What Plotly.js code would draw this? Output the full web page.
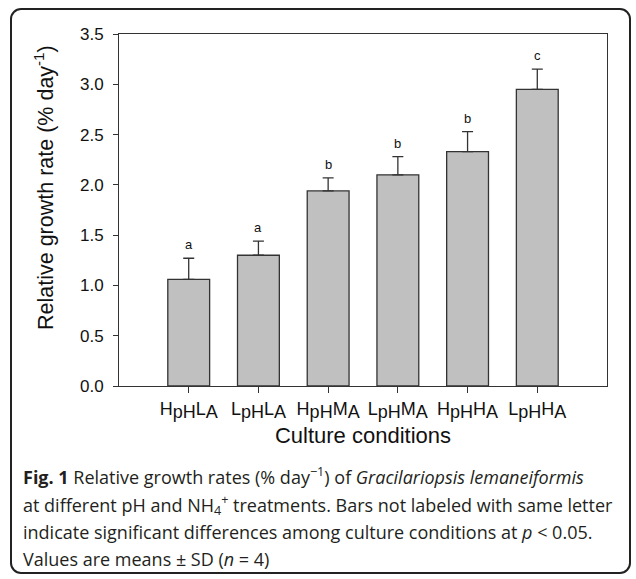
<!DOCTYPE html>
<html>
<head>
<meta charset="utf-8">
<script src="https://cdn.plot.ly/plotly-3.0.1.min.js"></script>
<style>
  html, body { margin: 0; padding: 0; background: #ffffff; }
  #wrap { position: relative; width: 636px; height: 579px; }
  #frame { position: absolute; left: 10px; top: 8px; width: 621px; height: 566px;
           border: 2px solid #222; border-radius: 11px; box-sizing: border-box; }
  #chart { position: absolute; left: 0; top: 0; width: 636px; height: 579px; }
</style>
</head>
<body>
<div id="wrap">
  <div id="frame"></div>
  <div id="chart"></div>
</div>
<script>
// ---- data ----
var categories = ['HpHLA', 'LpHLA', 'HpHMA', 'LpHMA', 'HpHHA', 'LpHHA'];
var subSpan = function (s) { return '<sub><span style="font-size:18px">' + s + '</span></sub>'; };
var tickLabels = [
  'H' + subSpan('pH') + 'L' + subSpan('A'),
  'L' + subSpan('pH') + 'L' + subSpan('A'),
  'H' + subSpan('pH') + 'M' + subSpan('A'),
  'L' + subSpan('pH') + 'M' + subSpan('A'),
  'H' + subSpan('pH') + 'H' + subSpan('A'),
  'L' + subSpan('pH') + 'H' + subSpan('A')
];
var growthRate = [1.06, 1.30, 1.94, 2.10, 2.33, 2.95];
var sdValues   = [0.21, 0.14, 0.13, 0.18, 0.20, 0.20];
var letters    = ['a', 'a', 'b', 'b', 'b', 'c'];

var captionLines = [
  '<b>Fig. 1</b> Relative growth rates (% day<sup>\u22121</sup>) of <i>Gracilariopsis lemaneiformis</i>',
  'at different pH and NH<sub>4</sub><sup>+</sup> treatments. Bars not labeled with same letter',
  'indicate significant differences among culture conditions at <i>p</i> &lt; 0.05.',
  'Values are means \u00b1 SD (<i>n</i> = 4)'
];

// ---- layout helpers (pixel -> paper) ----
var W = 636, H = 579;
var M = { l: 119, r: 29, t: 34, b: 193 };
var PW = W - M.l - M.r, PH = H - M.t - M.b;
function px2x(px) { return (px - M.l) / PW; }
function py2y(py) { return (H - M.b - py) / PH; }

var sans = 'Liberation Sans, Arial, sans-serif';

var trace = {
  type: 'bar',
  x: categories,
  y: growthRate,
  width: 0.6,
  marker: { color: '#c0c0c0', line: { color: '#333333', width: 1.3 } },
  error_y: {
    type: 'data', symmetric: false, array: sdValues,
    arrayminus: sdValues.map(function () { return 0; }),
    color: '#333333', thickness: 1.3, width: 5.5
  },
  hoverinfo: 'skip'
};

var annotations = letters.map(function (l, i) {
  return {
    x: categories[i], y: growthRate[i] + sdValues[i], xref: 'x', yref: 'y',
    text: l, showarrow: false, yanchor: 'bottom', yshift: 4,
    font: { family: sans, size: 13, color: '#111' }
  };
});

// y-axis title
annotations.push({
  xref: 'paper', yref: 'paper', x: px2x(44), y: py2y(188),
  text: 'Relative growth rate (% day<sup>-1</sup>)', textangle: -90,
  showarrow: false, xanchor: 'center', yanchor: 'middle',
  font: { family: sans, size: 21.5, color: '#111' }
});

// caption
var capY = [476, 505, 532, 559];
captionLines.forEach(function (t, i) {
  annotations.push({
    xref: 'paper', yref: 'paper', x: px2x(21), y: py2y(capY[i]),
    text: t, showarrow: false, xanchor: 'left', yanchor: 'middle', align: 'left',
    font: { family: 'Open Sans, sans-serif', size: 18, color: '#231f20' }
  });
});

var layout = {
  width: W, height: H,
  margin: M,
  paper_bgcolor: 'rgba(0,0,0,0)',
  plot_bgcolor: 'rgba(0,0,0,0)',
  showlegend: false,
  xaxis: {
    type: 'category',
    categoryorder: 'array', categoryarray: categories,
    range: [-1, 6],
    tickmode: 'array', tickvals: categories, ticktext: tickLabels,
    ticks: 'outside', ticklen: 6, tickcolor: '#333', tickwidth: 1,
    showline: true, linecolor: '#333', linewidth: 1, mirror: true,
    showgrid: false, zeroline: false,
    tickfont: { family: sans, size: 18, color: '#111' },
    title: { text: 'Culture conditions', standoff: 6,
             font: { family: sans, size: 22, color: '#111' } }
  },
  yaxis: {
    range: [0, 3.5],
    tickmode: 'linear', tick0: 0, dtick: 0.5, tickformat: '.1f',
    ticks: 'outside', ticklen: 5, tickcolor: '#333', tickwidth: 1,
    showline: true, linecolor: '#333', linewidth: 1, mirror: true,
    showgrid: false, zeroline: false,
    tickfont: { family: sans, size: 17, color: '#111' },
    ticklabelstandoff: 6
  },
  annotations: annotations
};

Plotly.newPlot('chart', [trace], layout, { displayModeBar: false, staticPlot: true });
</script>
</body>
</html>
